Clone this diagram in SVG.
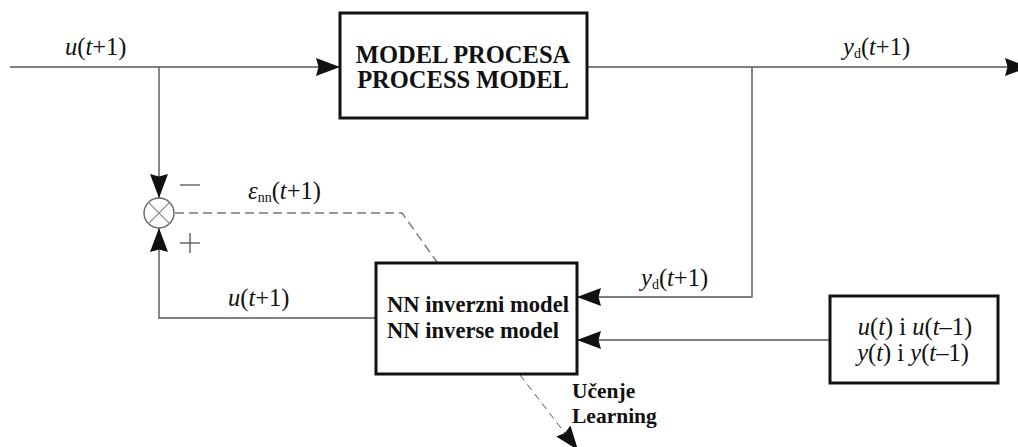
<svg xmlns="http://www.w3.org/2000/svg" width="1018" height="447" viewBox="0 0 1018 447">
  <style>
    .box { fill: #fff; stroke: #111; stroke-width: 3; }
    .wire { fill: none; stroke: #555; stroke-width: 1.4; }
    .dash { fill: none; stroke: #777; stroke-width: 1.4; stroke-dasharray: 9 5; }
    .thin-dash { fill: none; stroke: #555; stroke-width: 1; stroke-dasharray: 7 5; }
    .lbl { font-size: 24.5px; fill: #111; }
    .it { font-style: italic; }
    .sub { font-size: 14px; }
    .bold { font-weight: bold; fill: #111; }
  </style>
  <defs>
    <marker id="arrow" markerUnits="userSpaceOnUse" markerWidth="26" markerHeight="20" refX="24" refY="9" orient="auto">
      <path d="M0,0 L24,9 L0,18 L2.5,9 z" fill="#111"/>
    </marker>
  </defs>

  <rect width="1018" height="447" fill="#fff"/>

  <g id="connectors">
    <!-- input to process model -->
    <line class="wire" x1="10" y1="67" x2="340" y2="67" marker-end="url(#arrow)"/>
    <!-- process model output -->
    <line class="wire" x1="587" y1="67" x2="1029" y2="67" marker-end="url(#arrow)"/>
    <!-- branch of input down to the comparator -->
    <line class="wire" x1="159" y1="67" x2="159" y2="198" marker-end="url(#arrow)"/>
    <!-- inverse model output back to the comparator -->
    <polyline class="wire" points="376,318 159,318 159,228" marker-end="url(#arrow)"/>
    <!-- desired output fed to the inverse model -->
    <polyline class="wire" points="752,67 752,297 577,297" marker-end="url(#arrow)"/>
    <!-- past values fed to the inverse model -->
    <line class="wire" x1="830" y1="340" x2="577" y2="340" marker-end="url(#arrow)"/>
    <!-- error signal to the inverse model -->
    <polyline class="dash" points="175,213 402,213 437,262"/>
    <!-- learning path -->
    <line class="thin-dash" x1="520" y1="375" x2="578" y2="450" marker-end="url(#arrow)"/>
  </g>

  <g id="comparator">
    <circle cx="159" cy="213" r="15" fill="#fff" stroke="#666" stroke-width="1.4"/>
    <line x1="148.4" y1="202.4" x2="169.6" y2="223.6" stroke="#888" stroke-width="1.2"/>
    <line x1="169.6" y1="202.4" x2="148.4" y2="223.6" stroke="#888" stroke-width="1.2"/>
    <line x1="180" y1="185" x2="200" y2="185" stroke="#444" stroke-width="1.2"/>
    <line x1="180" y1="243" x2="200" y2="243" stroke="#444" stroke-width="1.2"/>
    <line x1="190" y1="233" x2="190" y2="253" stroke="#444" stroke-width="1.2"/>
  </g>

  <g font-family="'Liberation Serif', 'Times New Roman', serif">
  <g id="process-model">
    <rect class="box" x="340" y="13" width="247" height="105"/>
    <text class="bold" font-size="24.5" x="463" y="63" text-anchor="middle">MODEL PROCESA</text>
    <text class="bold" font-size="24.5" x="463" y="88" text-anchor="middle">PROCESS MODEL</text>
  </g>

  <g id="inverse-model">
    <rect class="box" x="376" y="263" width="201" height="111"/>
    <text class="bold" font-size="22.6" x="387" y="312">NN inverzni model</text>
    <text class="bold" font-size="22.6" x="387" y="338">NN inverse model</text>
  </g>

  <g id="past-values">
    <rect class="box" x="830" y="296" width="168" height="87"/>
    <text class="lbl" x="915" y="335" text-anchor="middle"><tspan class="it">u</tspan>(<tspan class="it">t</tspan>) i <tspan class="it">u</tspan>(<tspan class="it">t</tspan>–1)</text>
    <text class="lbl" x="913" y="361" text-anchor="middle"><tspan class="it">y</tspan>(<tspan class="it">t</tspan>) i <tspan class="it">y</tspan>(<tspan class="it">t</tspan>–1)</text>
  </g>

  <g id="labels">
    <text class="lbl" x="65" y="55"><tspan class="it">u</tspan>(<tspan class="it">t</tspan>+1)</text>
    <text class="lbl" x="843" y="55"><tspan class="it">y</tspan><tspan class="sub" dy="3">d</tspan><tspan dy="-3">(</tspan><tspan class="it">t</tspan>+1)</text>
    <text class="lbl" x="248" y="199"><tspan class="it">ε</tspan><tspan class="sub" dy="3">nn</tspan><tspan dy="-3">(</tspan><tspan class="it">t</tspan>+1)</text>
    <text class="lbl" x="228" y="306"><tspan class="it">u</tspan>(<tspan class="it">t</tspan>+1)</text>
    <text class="lbl" x="641" y="286"><tspan class="it">y</tspan><tspan class="sub" dy="3">d</tspan><tspan dy="-3">(</tspan><tspan class="it">t</tspan>+1)</text>
    <text class="bold" font-size="21.5" x="572" y="398">Učenje</text>
    <text class="bold" font-size="21.5" x="572" y="423">Learning</text>
  </g>
  </g>
</svg>
